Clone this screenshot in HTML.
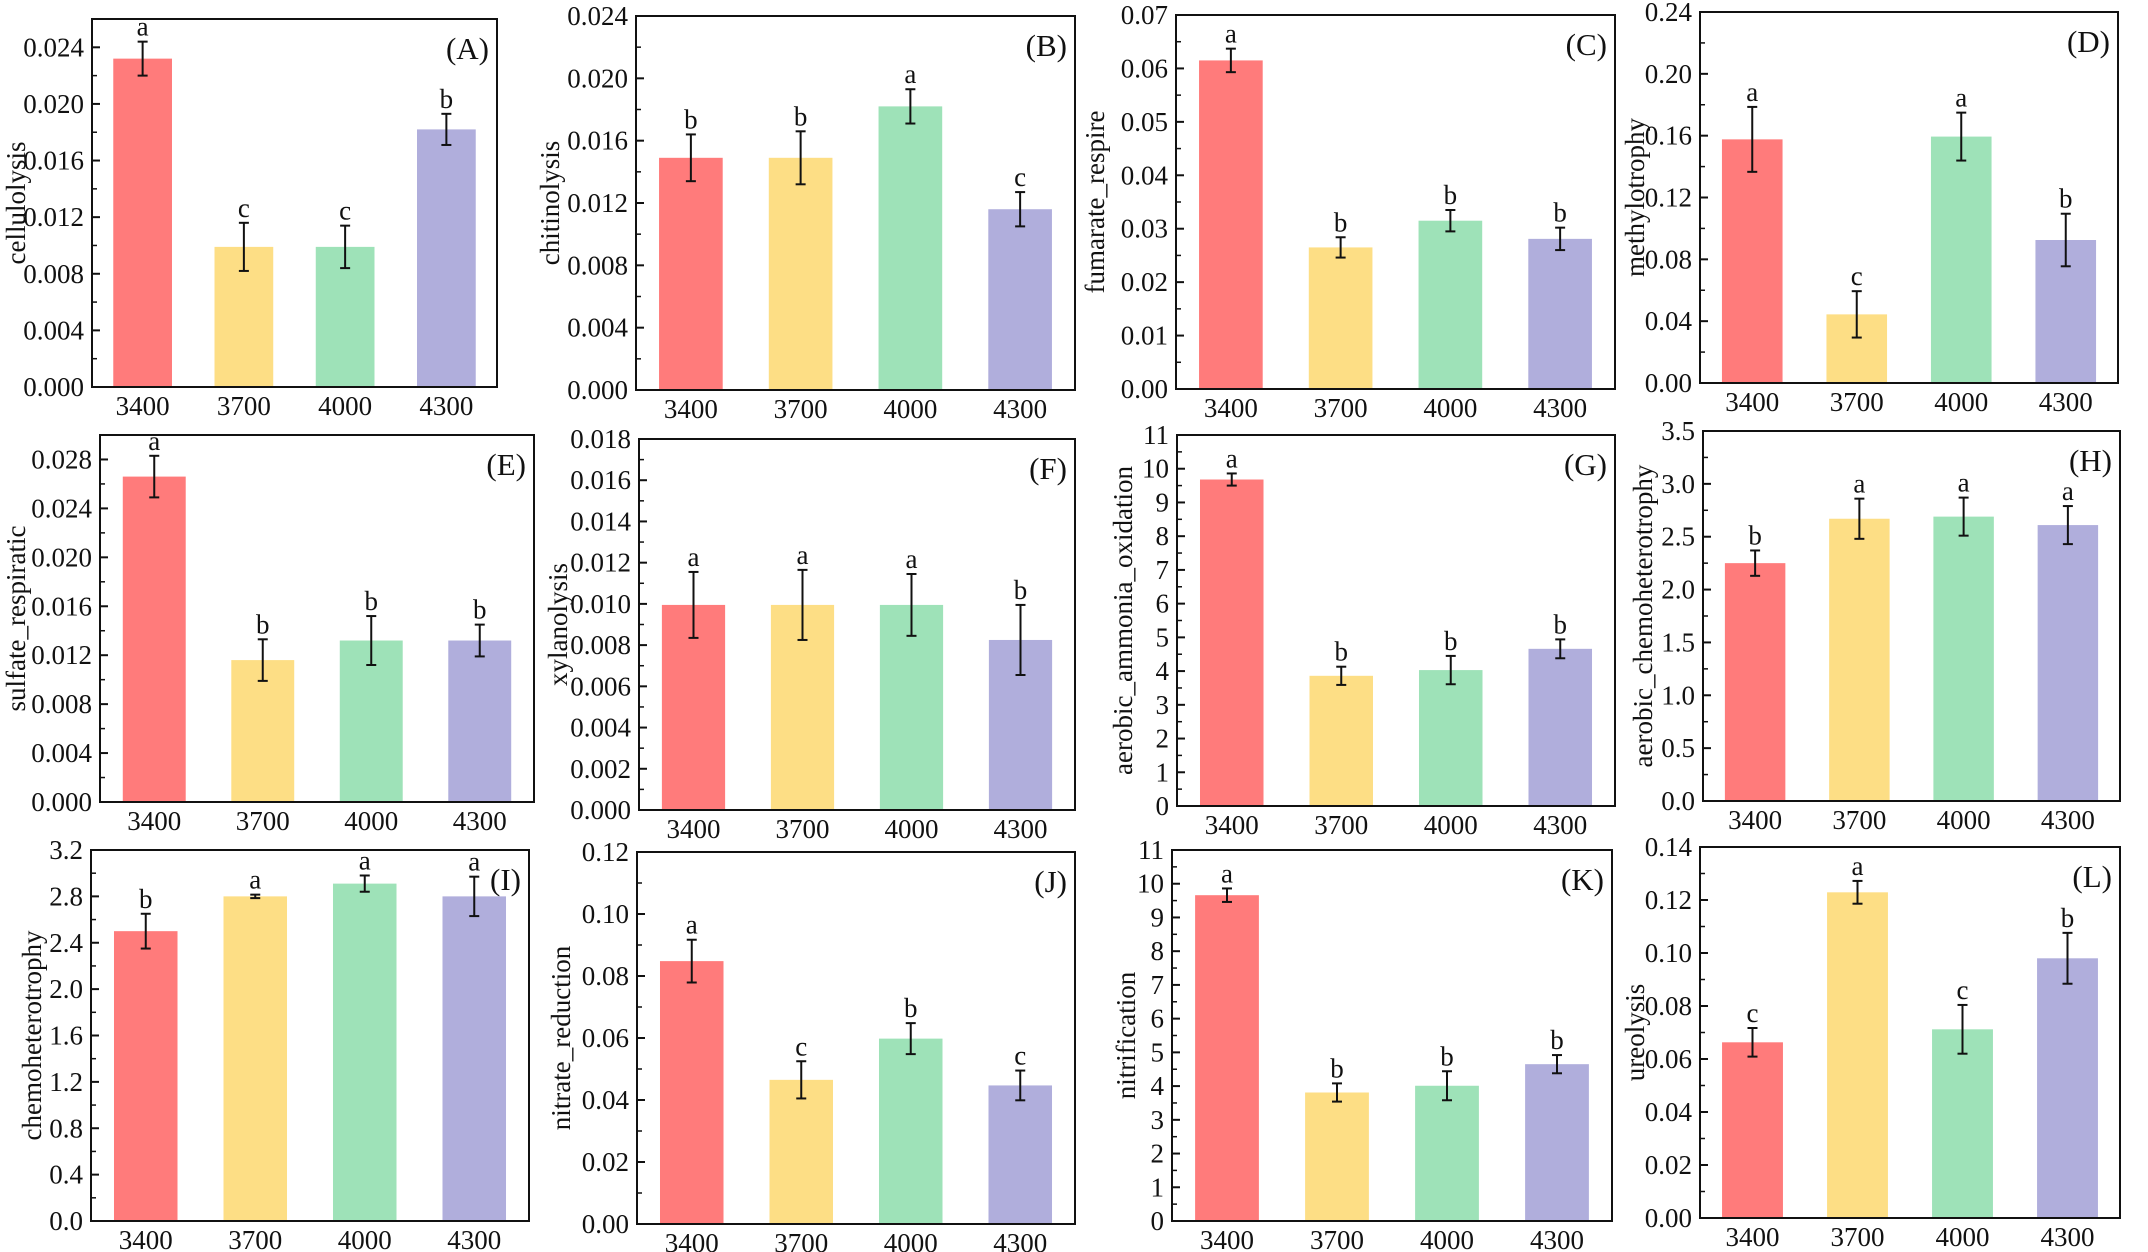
<!DOCTYPE html>
<html><head><meta charset="utf-8"><style>
html,body{margin:0;padding:0;background:#fff;}
svg{display:block;}
svg text{font-family:"Liberation Serif","Times New Roman",serif !important;fill:#111;}
</style></head>
<body>
<svg id="fig" width="2148" height="1252" viewBox="0 0 2148 1252" xmlns="http://www.w3.org/2000/svg" font-family="Liberation Serif, serif"></svg>
<script>
const categories = ["3400","3700","4000","4300"];
const barColors = ["#FF7B7B","#FDDE85","#9EE2B8","#B0AEDC"];

const valsA = [0.0232,0.0099,0.0099,0.0182];
const errA = [0.0012,0.0017,0.0015,0.0011];
const letA = ["a","c","c","b"];
const ticksA = [0,0.004,0.008,0.012,0.016,0.020,0.024];

const valsB = [0.0149,0.0149,0.0182,0.0116];
const errB = [0.0015,0.0017,0.0011,0.0011];
const letB = ["b","b","a","c"];
const ticksB = [0,0.004,0.008,0.012,0.016,0.020,0.024];

const valsC = [0.0615,0.0265,0.0315,0.0281];
const errC = [0.0022,0.0019,0.0020,0.0021];
const letC = ["a","b","b","b"];
const ticksC = [0,0.01,0.02,0.03,0.04,0.05,0.06,0.07];

const valsD = [0.1576,0.0444,0.1594,0.0925];
const errD = [0.021,0.015,0.0155,0.017];
const letD = ["a","c","a","b"];
const ticksD = [0,0.04,0.08,0.12,0.16,0.20,0.24];

const valsE = [0.0266,0.0116,0.0132,0.0132];
const errE = [0.0017,0.0017,0.0020,0.0013];
const letE = ["a","b","b","b"];
const ticksE = [0,0.004,0.008,0.012,0.016,0.020,0.024,0.028];

const valsF = [0.00995,0.00995,0.00995,0.00825];
const errF = [0.0016,0.0017,0.0015,0.0017];
const letF = ["a","a","a","b"];
const ticksF = [0,0.002,0.004,0.006,0.008,0.010,0.012,0.014,0.016,0.018];

const valsG = [9.68,3.86,4.03,4.66];
const errG = [0.18,0.27,0.42,0.28];
const letG = ["a","b","b","b"];
const ticksG = [0,1,2,3,4,5,6,7,8,9,10,11];

const valsH = [2.25,2.67,2.69,2.61];
const errH = [0.12,0.19,0.18,0.18];
const letH = ["b","a","a","a"];
const ticksH = [0,0.5,1.0,1.5,2.0,2.5,3.0,3.5];

const valsI = [2.50,2.80,2.91,2.80];
const errI = [0.15,0.015,0.07,0.17];
const letI = ["b","a","a","a"];
const ticksI = [0,0.4,0.8,1.2,1.6,2.0,2.4,2.8,3.2];

const valsJ = [0.0848,0.0465,0.0598,0.0447];
const errJ = [0.0069,0.0060,0.0050,0.0048];
const letJ = ["a","c","b","c"];
const ticksJ = [0,0.02,0.04,0.06,0.08,0.10,0.12];

const valsK = [9.66,3.81,4.01,4.65];
const errK = [0.20,0.27,0.43,0.27];
const letK = ["a","b","b","b"];
const ticksK = [0,1,2,3,4,5,6,7,8,9,10,11];

const valsL = [0.0663,0.1229,0.0712,0.098];
const errL = [0.0054,0.0043,0.0092,0.0096];
const letL = ["c","a","c","b"];
const ticksL = [0,0.02,0.04,0.06,0.08,0.10,0.12,0.14];

const panels = [
 {id:"A",title:"cellulolysis",vals:valsA,err:errA,let:letA,ticks:ticksA,max:0.026,dec:3,x0:92,x1:497,y0:19,y1:387,tx:76},
 {id:"B",title:"chitinolysis",vals:valsB,err:errB,let:letB,ticks:ticksB,max:0.024,dec:3,x0:636,x1:1075,y0:16,y1:390,tx:86},
 {id:"C",title:"fumarate_respire",vals:valsC,err:errC,let:letC,ticks:ticksC,max:0.07,dec:2,x0:1176,x1:1615,y0:15,y1:389,tx:81},
 {id:"D",title:"methylotrophy",vals:valsD,err:errD,let:letD,ticks:ticksD,max:0.24,dec:2,x0:1700,x1:2118,y0:12,y1:383,tx:65},
 {id:"E",title:"sulfate_respiratic",vals:valsE,err:errE,let:letE,ticks:ticksE,max:0.030,dec:3,x0:100,x1:534,y0:435,y1:802,tx:84},
 {id:"F",title:"xylanolysis",vals:valsF,err:errF,let:letF,ticks:ticksF,max:0.018,dec:3,x0:639,x1:1075,y0:439,y1:810,tx:81},
 {id:"G",title:"aerobic_ammonia_oxidation",vals:valsG,err:errG,let:letG,ticks:ticksG,max:11,dec:0,x0:1177,x1:1615,y0:435,y1:806,tx:54},
 {id:"H",title:"aerobic_chemoheterotrophy",vals:valsH,err:errH,let:letH,ticks:ticksH,max:3.5,dec:1,x0:1703,x1:2120,y0:431,y1:801,tx:60},
 {id:"I",title:"chemoheterotrophy",vals:valsI,err:errI,let:letI,ticks:ticksI,max:3.2,dec:1,x0:91,x1:529,y0:850,y1:1221,tx:59},
 {id:"J",title:"nitrate_reduction",vals:valsJ,err:errJ,let:letJ,ticks:ticksJ,max:0.12,dec:2,x0:637,x1:1075,y0:852,y1:1224,tx:76},
 {id:"K",title:"nitrification",vals:valsK,err:errK,let:letK,ticks:ticksK,max:11,dec:0,x0:1172,x1:1612,y0:850,y1:1221,tx:46},
 {id:"L",title:"ureolysis",vals:valsL,err:errL,let:letL,ticks:ticksL,max:0.14,dec:2,x0:1700,x1:2120,y0:847,y1:1218,tx:65}
];

const NS = "http://www.w3.org/2000/svg";
const svg = document.getElementById("fig");
const FF = "'Liberation Serif', 'Times New Roman', serif";
function mk(tag, attrs, parent){
  const e = document.createElementNS(NS, tag);
  for (const k in attrs) e.setAttribute(k, attrs[k]);
  if (tag === "text") e.style.fontFamily = FF;
  parent.appendChild(e);
  return e;
}

panels.forEach(p => {
  const g = mk("g", {}, svg);
  
  
  const yS = v => p.y1 - (v / p.max) * (p.y1 - p.y0);
  const cw = (p.x1 - p.x0) / categories.length;
  const xC = i => p.x0 + (i + 0.5) * cw;
  const bw = cw * 0.58;

  p.vals.forEach((v, i) => {
    const r = mk("rect", {x: xC(i) - bw/2, y: yS(v), width: bw, height: p.y1 - yS(v), fill: barColors[i]}, g);
    
    
  });
  p.vals.forEach((v, i) => {
    const eg = mk("g", {stroke: "#111", "stroke-width": 2}, g);
    
    
    const hi = yS(v + p.err[i]), lo = yS(v - p.err[i]), x = xC(i);
    mk("line", {x1: x, x2: x, y1: hi, y2: lo}, eg);
    mk("line", {x1: x-5, x2: x+5, y1: hi, y2: hi}, eg);
    mk("line", {x1: x-5, x2: x+5, y1: lo, y2: lo}, eg);
    const t = mk("text", {x: x, y: hi - 6, "text-anchor": "middle", "font-size": 27}, g);
    t.textContent = p.let[i];
    
    
  });
  const fr = mk("rect", {x: p.x0, y: p.y0, width: p.x1 - p.x0, height: p.y1 - p.y0, fill: "none", stroke: "#111", "stroke-width": 2}, g);
  
  
  const yax = mk("g", {}, g);
  
  
  p.ticks.forEach((tv, k) => {
    const y = yS(tv);
    mk("line", {x1: p.x0, x2: p.x0 + 8, y1: y, y2: y, stroke: "#111", "stroke-width": 2}, yax);
    if (k < p.ticks.length - 1) {
      const ym = yS((tv + p.ticks[k+1]) / 2);
      mk("line", {x1: p.x0, x2: p.x0 + 5, y1: ym, y2: ym, stroke: "#111", "stroke-width": 1.5}, yax);
    }
    const lab = mk("text", {x: p.x0 - 8, y: y + 9, "text-anchor": "end", "font-size": 27}, yax);
    lab.textContent = tv.toFixed(p.dec);
    
    
  });
  categories.forEach((c, i) => {
    const t = mk("text", {x: xC(i), y: p.y1 + 28, "text-anchor": "middle", "font-size": 27}, g);
    t.textContent = c;
    
    
  });
  const cy = (p.y0 + p.y1) / 2;
  const tx = p.x0 - p.tx;
  const yt = mk("text", {x: tx, y: cy, "text-anchor": "middle", "dominant-baseline": "central", "font-size": 27, transform: "rotate(-90 " + tx + " " + cy + ")"}, g);
  yt.textContent = p.title;
  
  
  const pl = mk("text", {x: p.x1 - 8, y: p.y0 + 40, "text-anchor": "end", "font-size": 31}, g);
  pl.textContent = "(" + p.id + ")";
  
  
});
</script>
</body></html>
